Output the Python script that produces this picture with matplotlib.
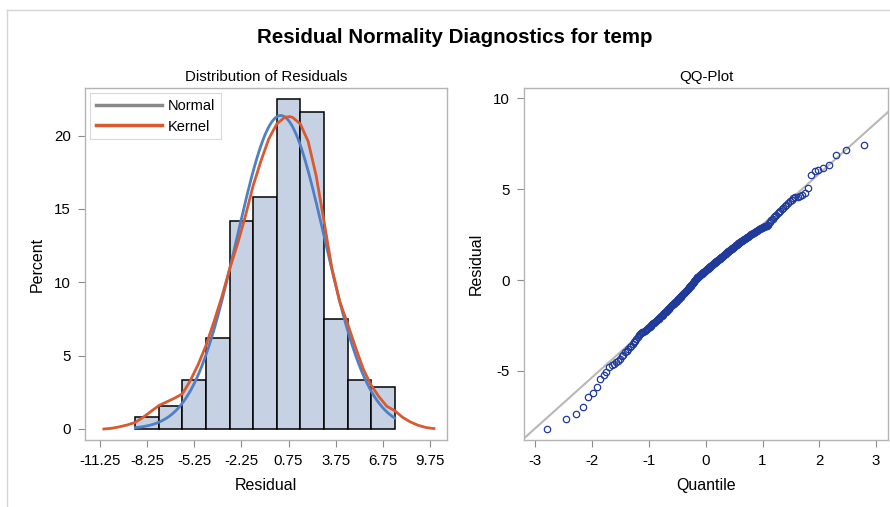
import numpy as np
import matplotlib
matplotlib.use('Agg')
import matplotlib.pyplot as plt
from matplotlib.lines import Line2D
from statistics import NormalDist

# histogram: bin midpoints (width 1.5) and percent of observations
bin_mids = [-8.25, -6.75, -5.25, -3.75, -2.25, -0.75, 0.75, 2.25, 3.75, 5.25, 6.75]
bin_pct = [0.84, 1.59, 3.34, 6.23, 14.16, 15.82, 22.48, 21.64, 7.48, 3.34, 2.86]
bin_width = 1.5

# fitted normal parameters
resid_mean = 0.25
resid_std = 2.8

# kernel density curve (percent scale)
kern_x = [-11.0, -10.5, -10.0, -9.5, -9.0, -8.5, -8.0, -7.5, -7.0, -6.5, -6.0, -5.5,
          -5.0, -4.5, -4.0, -3.5, -3.0, -2.5, -2.0, -1.5, -1.0, -0.5, 0.0, 0.5, 0.8,
          1.0, 1.5, 2.0, 2.5, 3.0, 3.5, 4.0, 4.5, 5.0, 5.5, 6.0, 6.5, 7.0, 7.5, 8.0,
          8.5, 9.0, 9.5, 10.0]
kern_y = [0.0, 0.05, 0.15, 0.28, 0.45, 0.8, 1.2, 1.6, 1.85, 2.1, 2.4, 3.3,
          4.4, 5.7, 7.3, 9.0, 10.9, 12.6, 14.5, 16.6, 18.3, 19.8, 20.8, 21.25, 21.3,
          21.25, 20.8, 19.6, 17.3, 14.2, 11.0, 8.7, 7.2, 5.6, 4.1, 3.0, 2.2, 1.55, 1.25, 0.8,
          0.48, 0.25, 0.1, 0.03]

# sorted residuals (QQ plot)
residuals = [
    -8.20, -7.66,
    -7.36, -6.96, -6.45, -6.23,
    -5.90, -5.42, -5.22, -5.04, -4.80, -4.70, -4.60, -4.52,
    -4.45, -4.35, -4.20, -4.10, -3.98, -3.90, -3.80, -3.70, -3.62, -3.50, -3.42, -3.33,
    -3.22, -3.12, -3.04,
    -2.97, -2.93, -2.88, -2.84, -2.79, -2.74, -2.70, -2.65, -2.61, -2.56,
    -2.52, -2.47, -2.43, -2.39, -2.35, -2.30, -2.26, -2.22, -2.17, -2.13,
    -2.09, -2.04, -2.00, -1.96, -1.91, -1.87, -1.82, -1.78, -1.74, -1.69,
    -1.65, -1.61, -1.57, -1.53,
    -1.47, -1.44, -1.40, -1.37, -1.33, -1.30, -1.26, -1.22, -1.19, -1.15,
    -1.11, -1.07, -1.04, -1.00, -0.96, -0.92, -0.88, -0.85, -0.81, -0.77,
    -0.74, -0.70, -0.66, -0.62, -0.58, -0.55, -0.51, -0.47, -0.43, -0.39,
    -0.35, -0.31, -0.27, -0.23, -0.19, -0.14, -0.09, -0.04,
    0.02, 0.05, 0.08, 0.11, 0.14, 0.17, 0.20, 0.22, 0.25, 0.28,
    0.31, 0.34, 0.36, 0.39, 0.42, 0.45, 0.48, 0.50, 0.53, 0.56,
    0.59, 0.62, 0.64, 0.67, 0.70, 0.73, 0.76, 0.78, 0.81, 0.84,
    0.87, 0.90, 0.92, 0.95, 0.98, 1.01, 1.04, 1.06, 1.09, 1.12,
    1.15, 1.18, 1.20, 1.23, 1.26, 1.29, 1.32, 1.34, 1.37, 1.40,
    1.43, 1.45, 1.48,
    1.52, 1.55, 1.58, 1.61, 1.64, 1.67, 1.70, 1.72, 1.75, 1.78,
    1.81, 1.84, 1.87, 1.90, 1.92, 1.95, 1.98, 2.01, 2.04, 2.07,
    2.10, 2.12, 2.15, 2.18, 2.21, 2.24, 2.27, 2.30, 2.33, 2.36,
    2.39, 2.42, 2.45, 2.48, 2.51, 2.54, 2.57, 2.60, 2.63, 2.66,
    2.69, 2.72, 2.75, 2.78, 2.81, 2.84, 2.87, 2.90, 2.92, 2.95,
    2.97, 2.99,
    3.04, 3.12, 3.20, 3.29, 3.37, 3.45, 3.52, 3.60, 3.68, 3.75,
    3.82, 3.90, 3.98, 4.06, 4.14, 4.23, 4.32, 4.42,
    4.52, 4.55, 4.58, 4.62, 4.67, 4.76, 5.04, 5.77,
    6.00, 6.04, 6.14, 6.34, 6.85, 7.14, 7.42,
]

hist_ticks = [-11.25, -8.25, -5.25, -2.25, 0.75, 3.75, 6.75, 9.75]
hist_ticklabels = ['-11.25', '-8.25', '-5.25', '-2.25', '0.75', '3.75', '6.75', '9.75']


def style_axes(ax):
    for s in ax.spines.values():
        s.set_color('#b4b4b4')
        s.set_linewidth(1.0)
    ax.tick_params(colors='#8c8c8c', labelcolor='black', labelsize=10.8,
                   length=5, width=0.8, pad=5)


def main():
    plt.rcParams['font.family'] = ['Liberation Sans', 'DejaVu Sans']
    plt.rcParams['axes.unicode_minus'] = False
    fig = plt.figure(figsize=(8.9, 5.07), dpi=100)

    # thin frame around the graph
    fig.add_artist(Line2D([7 / 890, 1], [1 - 10 / 507, 1 - 10 / 507],
                          transform=fig.transFigure, color='#d4d4d4', lw=1))
    fig.add_artist(Line2D([7 / 890, 7 / 890], [0, 1 - 10 / 507],
                          transform=fig.transFigure, color='#d4d4d4', lw=1))

    fig.text(0.511, 1 - 38 / 507, 'Residual Normality Diagnostics for temp',
             ha='center', va='center', fontsize=14.8, fontweight='bold')

    # ---- histogram ----
    ax1 = fig.add_axes([85 / 890, 1 - 440 / 507, 362 / 890, 352 / 507])
    ax1.bar(bin_mids, bin_pct, width=bin_width, color='#c6d2e4',
            edgecolor='black', linewidth=1.1, zorder=2)
    xs = np.linspace(bin_mids[0] - bin_width / 2, bin_mids[-1] + bin_width / 2, 300)
    ys = 100 * bin_width * np.exp(-0.5 * ((xs - resid_mean) / resid_std) ** 2) / (resid_std * np.sqrt(2 * np.pi))
    ax1.plot(xs, ys, color='#4f7fc4', lw=2, zorder=3)
    ax1.plot(kern_x, kern_y, color='#d95a2f', lw=2, zorder=4)
    ax1.set_xlim(-12.2, 10.83)
    ax1.set_ylim(-0.75, 23.25)
    ax1.set_xticks(hist_ticks)
    ax1.set_xticklabels(hist_ticklabels)
    ax1.set_yticks([0, 5, 10, 15, 20])
    ax1.set_xlabel('Residual', fontsize=11.5, labelpad=7)
    ax1.set_ylabel('Percent', fontsize=11.5, labelpad=7)
    ax1.set_title('Distribution of Residuals', fontsize=10.8, pad=5)
    style_axes(ax1)
    handles = [Line2D([], [], color='#8a8a8a', lw=2.5),
               Line2D([], [], color='#d95a2f', lw=2.5)]
    leg = ax1.legend(handles, ['Normal', 'Kernel'], loc='upper left', fontsize=10.5,
                     frameon=True, fancybox=False, handlelength=4.5,
                     borderpad=0.4, labelspacing=0.45, handletextpad=0.45,
                     borderaxespad=0.35)
    leg.get_frame().set_edgecolor('#d0d0d0')
    leg.get_frame().set_linewidth(0.8)

    # ---- QQ plot ----
    n = len(residuals)
    nd = NormalDist()
    quant = [nd.inv_cdf((i + 1 - 0.375) / (n + 0.25)) for i in range(n)]
    ax2 = fig.add_axes([524 / 890, 1 - 440 / 507, 364 / 890, 352 / 507])
    ax2.set_xlim(-3.2, 3.21)
    ax2.set_ylim(-8.8, 10.56)
    lx = np.array(ax2.get_xlim())
    ax2.plot(lx, resid_mean + resid_std * lx, color='#b8b8b8', lw=1.5, zorder=2)
    ax2.plot(quant, residuals, 'o', mfc='none', mec='#1f3a9a', ms=4.6, mew=0.9, zorder=3)
    ax2.set_xticks([-3, -2, -1, 0, 1, 2, 3])
    ax2.set_yticks([-5, 0, 5, 10])
    ax2.set_xlabel('Quantile', fontsize=11.5, labelpad=7)
    ax2.set_ylabel('Residual', fontsize=11.5, labelpad=7)
    ax2.set_title('QQ-Plot', fontsize=10.8, pad=5)
    style_axes(ax2)

    fig.savefig('out.png', dpi=100)


if __name__ == '__main__':
    main()
